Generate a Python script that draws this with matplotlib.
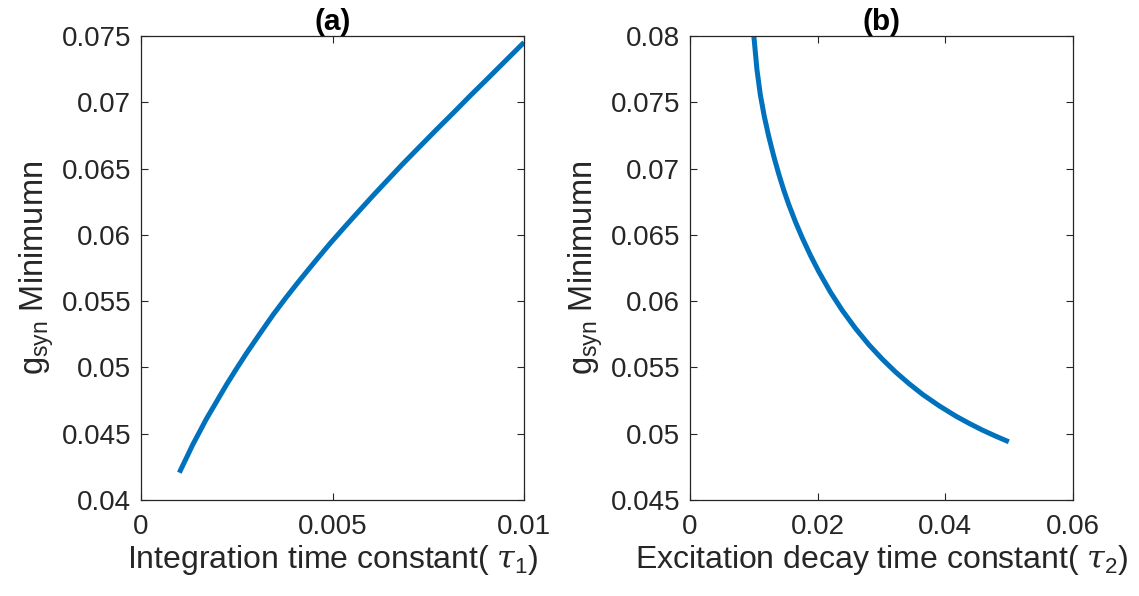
import numpy as np
import matplotlib
matplotlib.use("Agg")
import matplotlib.pyplot as plt
from matplotlib.ticker import FuncFormatter

# panel (a): integration time constant tau1 vs minimum g_syn
tau1 = [0.00100, 0.00118, 0.00135, 0.00153, 0.00170, 0.00197, 0.00223,
        0.00249, 0.00275, 0.00310, 0.00345, 0.00380, 0.00415, 0.00454,
        0.00493, 0.00533, 0.00572, 0.00607, 0.00642, 0.00681, 0.00721,
        0.00769, 0.00817, 0.00860, 0.00904, 0.00952, 0.01000]
gmin_a = [0.04206, 0.04314, 0.04417, 0.04515, 0.04608, 0.04741, 0.04869,
          0.04989, 0.05105, 0.05253, 0.05398, 0.05532, 0.05660, 0.05798,
          0.05933, 0.06064, 0.06189, 0.06300, 0.06408, 0.06528, 0.06646,
          0.06787, 0.06925, 0.07051, 0.07176, 0.07314, 0.07452]

# panel (b): excitation decay time constant tau2 vs minimum g_syn
tau2 = [0.01000, 0.01048, 0.01100, 0.01163, 0.01231, 0.01310, 0.01389,
        0.01467, 0.01546, 0.01651, 0.01755, 0.01887, 0.02018, 0.02201,
        0.02384, 0.02594, 0.02804, 0.03013, 0.03223, 0.03432, 0.03642,
        0.03904, 0.04166, 0.04376, 0.04585, 0.04795, 0.04994]
gmin_b = [0.08000, 0.07749, 0.07561, 0.07395, 0.07247, 0.07096, 0.06961,
          0.06840, 0.06730, 0.06599, 0.06481, 0.06345, 0.06222, 0.06067,
          0.05931, 0.05793, 0.05670, 0.05562, 0.05464, 0.05377, 0.05297,
          0.05210, 0.05132, 0.05077, 0.05026, 0.04980, 0.04939]

xt_a = [0, 0.005, 0.01]
yt_a = [0.04, 0.045, 0.05, 0.055, 0.06, 0.065, 0.07, 0.075]
xt_b = [0, 0.02, 0.04, 0.06]
yt_b = [0.045, 0.05, 0.055, 0.06, 0.065, 0.07, 0.075, 0.08]

plt.rcParams['font.family'] = ['Liberation Sans', 'DejaVu Sans']
plt.rcParams['mathtext.fontset'] = 'custom'
plt.rcParams['mathtext.rm'] = 'Liberation Sans'
plt.rcParams['mathtext.it'] = 'DejaVu Serif:italic'

dark = '#262626'
blue = '#0072BD'
fmt = FuncFormatter(lambda v, p: ('%g' % v))

fig = plt.figure(figsize=(11.39, 5.96), dpi=100)
ax1 = fig.add_axes([0.1238, 0.1611, 0.3363, 0.7785])
ax2 = fig.add_axes([0.6058, 0.1611, 0.3363, 0.7785])

def style(ax, xt, yt, title, xlabel):
    ax.set_xticks(xt)
    ax.set_yticks(yt)
    ax.xaxis.set_major_formatter(fmt)
    ax.yaxis.set_major_formatter(fmt)
    ax.set_xlim(xt[0], xt[-1])
    ax.set_ylim(yt[0], yt[-1])
    ax.tick_params(direction='in', top=True, right=True, length=5, width=0.8,
                   color=dark, labelcolor=dark, labelsize=20, pad=7)
    ax.tick_params(axis='x', pad=10)
    for s in ax.spines.values():
        s.set_color(dark)
        s.set_linewidth(0.9)
    ax.set_title(title, fontsize=21.5, fontweight='bold', pad=4)
    ax.set_xlabel(xlabel, fontsize=23, color=dark, labelpad=2)
    ax.set_ylabel(r'g$_{\mathregular{syn}}$ Minimumn', fontsize=23.5, color=dark, labelpad=4)

ax1.plot(tau1, gmin_a, color=blue, lw=3.6, solid_capstyle='butt')
style(ax1, xt_a, yt_a, '(a)', r'Integration time constant( $\tau_{\mathregular{1}}$)')

ax2.plot(tau2, gmin_b, color=blue, lw=3.6, solid_capstyle='butt')
style(ax2, xt_b, yt_b, '(b)', r'Excitation decay time constant( $\tau_{\mathregular{2}}$)')

fig.savefig('out.png', dpi=100)
plt.close(fig)
